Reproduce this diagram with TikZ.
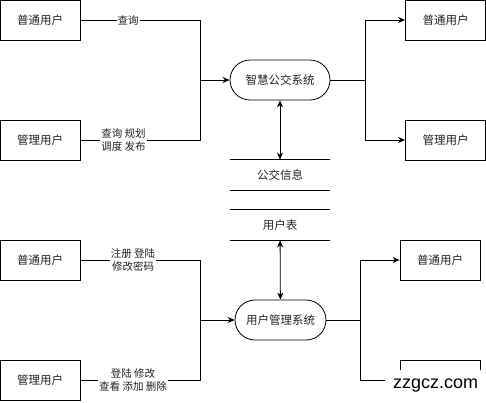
\documentclass[tikz,border=0pt]{standalone}
\usepackage{fontspec}
\setmainfont{Liberation Sans}
\newfontfamily\cjk{Noto Sans CJK SC}
\usetikzlibrary{arrows.meta}
\definecolor{ink}{HTML}{000000}
\definecolor{note}{HTML}{222222}

\begin{document}
\begin{tikzpicture}[x=1pt,y=-1pt,font=\cjk\fontsize{11.5}{14}\selectfont,text=note,
  >={Stealth[length=7pt,width=6pt]},line width=0.8pt,draw=ink,
  userbox/.style={draw,minimum width=80pt,minimum height=40pt,inner sep=0pt},
  sysbox/.style={draw,rounded corners=20pt,minimum width=100pt,minimum height=40pt,inner sep=0pt},
  store/.style={minimum width=100pt,minimum height=30pt,inner sep=0pt},
  flowlbl/.style={fill=white,inner sep=1pt,align=center,font=\cjk\fontsize{10.5}{13.5}\selectfont}]
  \useasboundingbox (0,0) rectangle (486,402);

  % bus system
  \node[userbox] (busUser) at (40,20) {普通用户};
  \node[userbox] (busAdmin) at (40,140) {管理用户};
  \node[sysbox] (bus) at (280,80) {智慧公交系统};
  \node[userbox] (busUserOut) at (445.5,20) {普通用户};
  \node[userbox] (busAdminOut) at (445.5,140) {管理用户};
  \coordinate (busIn) at (200,80);
  \coordinate (busOut) at (365,80);
  \draw (busUser) -| node[flowlbl,pos=0.2] {查询} (busIn);
  \draw (busAdmin) -| node[flowlbl,pos=0.18] {查询 规划\\调度 发布} (busIn);
  \draw[->] (busIn) -- (bus);
  \draw (bus) -- (busOut);
  \draw[->] (busOut) |- (busUserOut);
  \draw[->] (busOut) |- (busAdminOut);

  % data stores
  \node[store] (busData) at (280,175) {公交信息};
  \draw (busData.north west) -- (busData.north east);
  \draw (busData.south west) -- (busData.south east);
  \node[store] (userData) at (280,225) {用户表};
  \draw (userData.north west) -- (userData.north east);
  \draw (userData.south west) -- (userData.south east);
  \draw[<->] (bus) -- (busData);

  % user management
  \node[sysbox,minimum width=91pt] (userSys) at (280.5,320) {用户管理系统};
  \draw[<->] (userData) -- (userSys);
  \node[userbox] (regUser) at (40,260) {普通用户};
  \node[userbox] (regAdmin) at (40,380) {管理用户};
  \coordinate (userIn) at (200,320);
  \draw (regUser) -| node[flowlbl,pos=0.22] {注册 登陆\\修改密码} (userIn);
  \draw (regAdmin) -| node[flowlbl,pos=0.22] {登陆 修改\\查看 添加 删除} (userIn);
  \draw[->] (userIn) -- (userSys);
  \coordinate (userOut) at (360,320);
  \node[userbox] (regUserOut) at (440,260) {普通用户};
  \node[userbox] (regAdminOut) at (440,380) {};
  \draw (userSys) -- (userOut);
  \draw[->] (userOut) |- (regUserOut);
  \draw[->] (userOut) |- (regAdminOut);

  % watermark
  \node[fill=white,text=ink,font=\fontsize{18}{20}\selectfont,minimum width=101pt,
    minimum height=32pt,inner sep=0pt] (mark) at (435.5,386) {zzgcz.com};
\end{tikzpicture}
\end{document}
